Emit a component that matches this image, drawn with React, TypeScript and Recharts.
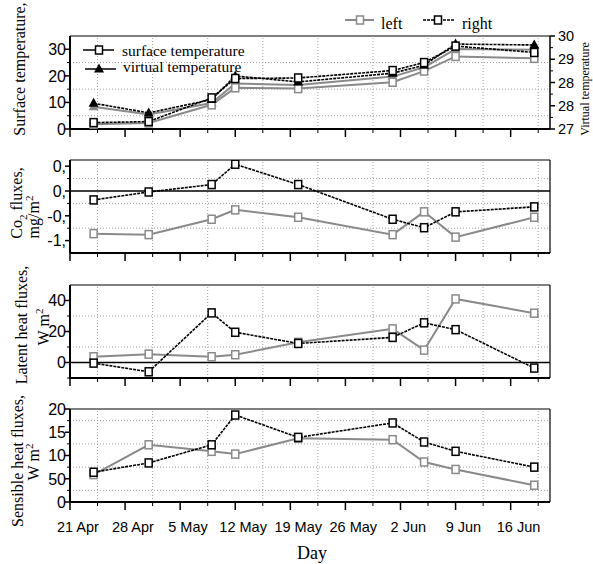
import React from 'react';
import { LineChart, Line, XAxis, YAxis, ReferenceLine } from 'recharts';

// sampling days, counted from 20 Apr (day 0)
const days = [3, 10, 18, 21, 29, 41, 45, 49, 59];

const weekTicks = [0, 7, 14, 21, 28, 35, 42, 49, 56];
const halfWeekTicks = [3.5, 10.5, 17.5, 24.5, 31.5, 38.5, 45.5, 52.5, 59.5];
const labelDays = [1, 8, 15, 22, 29, 36, 43, 50, 57];
const dayLabels = ['21 Apr', '28 Apr', '5 May', '12 May', '19 May', '26 May', '2 Jun', '9 Jun', '16 Jun'];

// surface temperature (left axis)
const surfLeft = [1.8, 2.3, 9.1, 15.5, 15.2, 17.6, 21.8, 27.3, 26.6];
const surfRight = [2.4, 2.8, 11.7, 19.0, 19.2, 22.0, 25.0, 31.2, 28.8];
// virtual temperature (right axis)
const virtLeft = [27.72, 27.47, 27.84, 28.47, 28.42, 28.69, 28.99, 29.58, 29.56];
const virtRight = [27.83, 27.52, 27.95, 28.71, 28.52, 28.8, 29.06, 29.74, 29.71];

const co2Left = [-0.86, -0.88, -0.57, -0.38, -0.53, -0.88, -0.42, -0.93, -0.53];
const co2Right = [-0.18, -0.02, 0.13, 0.54, 0.13, -0.57, -0.74, -0.42, -0.32];

const latentLeft = [3.7, 5.4, 3.7, 5.0, 13, 21.7, 8, 41, 31.8];
const latentRight = [-0.4, -6, 32, 19.5, 12.3, 16.2, 25.6, 21.2, -3.6];

const sensibleLeft = [5.9, 12.3, 10.9, 10.3, 13.7, 13.4, 8.6, 7.0, 3.6];
const sensibleRight = [6.4, 8.4, 12.3, 18.7, 13.9, 17.0, 12.9, 10.9, 7.5];

// y ticks
const tempTicks = [0, 10, 20, 30];
const tempLabels = ['0', '10', '20', '30'];
const tempMinor = [5, 15, 25];
const virtTicks = [27, 27.75, 28.5, 29.25, 30];
const virtLabels = ['27', '28', '28', '29', '30'];
const virtMinor = [27.375, 28.125, 28.875, 29.625];
const co2Ticks = [-1, -0.5, 0, 0.5];
const co2Labels = ['-1,', '-0,', '0,', '0,'];
const co2Minor = [-0.75, -0.25, 0.25];
const latentTicks = [0, 20, 40];
const latentLabels = ['0', '20', '40'];
const latentMinor = [-10, 10, 30];
const sensibleTicks = [0, 5, 10, 15, 20];
const sensibleLabels = ['0', '50', '10', '15', '20'];
const sensibleMinor = [2.5, 7.5, 12.5, 17.5];

const SANS = 'Liberation Sans, Arial, sans-serif';
const SERIF = 'Liberation Serif, Times New Roman, serif';
const GREY = '#8a8a8a';
const GRID = '#a0a0a0';
const DASH = '3 1';

const build = (l: number[], r: number[], l2?: number[], r2?: number[]) =>
  days.map((d, i) => ({ day: d, l: l[i], r: r[i], l2: l2 ? l2[i] : null, r2: r2 ? r2[i] : null }));

const square = (color: string) => (p: any) => (
  <rect key={'s' + p.index} x={p.cx - 3.5} y={p.cy - 4} width={7} height={8} fill="#fff" stroke={color} strokeWidth={1.5} />
);
const triangle = (color: string) => (p: any) => (
  <path key={'t' + p.index} d={`M${p.cx},${p.cy - 5.5}L${p.cx + 5},${p.cy + 3.5}L${p.cx - 5},${p.cy + 3.5}Z`} fill={color} />
);

const XTick = ({ x, y, payload, showLabels }: any) => {
  const v = payload.value;
  if (weekTicks.includes(v)) return <line x1={x} x2={x} y1={y} y2={y + 8} stroke="#000" strokeWidth={1.5} />;
  const i = labelDays.indexOf(v);
  if (i >= 0) {
    if (!showLabels) return <g />;
    return (
      <text x={x} y={y + 30} textAnchor="middle" fontSize={14.5} fontFamily={SANS} fill="#000">
        {dayLabels[i]}
      </text>
    );
  }
  return <line x1={x} x2={x} y1={y} y2={y + 4} stroke="#000" strokeWidth={1} />;
};

const YTick = ({ x, y, payload, major, labels, right }: any) => {
  const i = major.indexOf(payload.value);
  const s = right ? 1 : -1;
  if (i < 0) return <line x1={x} x2={x + s * 3} y1={y} y2={y} stroke="#000" strokeWidth={1} />;
  return (
    <g>
      <line x1={x} x2={x + s * 5} y1={y} y2={y} stroke="#000" strokeWidth={1.5} />
      <text
        x={x + s * (right ? 8 : 4)}
        y={y}
        dy="0.36em"
        textAnchor={right ? 'start' : 'end'}
        fontSize={right ? 14.5 : 16}
        fontFamily={SANS}
        fill="#000"
      >
        {labels[i]}
      </text>
    </g>
  );
};

const gridLines = (yVals: number[], yAxisId?: string) => [
  ...halfWeekTicks.map((v) => (
    <ReferenceLine key={'gx' + v} x={v} yAxisId={yAxisId} stroke={GRID} strokeDasharray="1 2" />
  )),
  ...yVals.map((v) => (
    <ReferenceLine key={'gy' + v} y={v} yAxisId={yAxisId} stroke={GRID} strokeDasharray="1 2" />
  )),
];

const xAxis = (bottom: boolean) => (
  <XAxis
    dataKey="day"
    type="number"
    domain={[0, 61]}
    ticks={[...weekTicks, ...halfWeekTicks, ...labelDays].sort((a, b) => a - b)}
    interval={0}
    tickSize={0}
    tickMargin={0}
    tickLine={false}
    height={bottom ? 45 : 22}
    axisLine={{ stroke: '#000', strokeWidth: 2 }}
    tick={(p: any) => <XTick {...p} showLabels={bottom} />}
  />
);

type PanelProps = {
  top: number;
  data: any[];
  domain: [number, number];
  major: number[];
  labels: string[];
  minor: number[];
  zero?: boolean;
  bottom?: boolean;
};

const Panel = ({ top, data, domain, major, labels, minor, zero, bottom }: PanelProps) => (
  <div style={{ position: 'absolute', left: 0, top: top - 10 }}>
    <LineChart width={593} height={10 + 93 + (bottom ? 45 : 22)} data={data} margin={{ top: 10, right: 43, bottom: 0, left: 0 }}>
      {xAxis(!!bottom)}
      <YAxis
        type="number"
        domain={domain}
        ticks={[...major, ...minor]}
        interval={0}
        width={70}
        tickSize={0}
        tickMargin={0}
        tickLine={false}
        allowDataOverflow
        axisLine={{ stroke: '#000', strokeWidth: 2 }}
        tick={(p: any) => <YTick {...p} major={major} labels={labels} />}
      />
      {gridLines(minor)}
      <ReferenceLine y={domain[1]} stroke="#000" strokeWidth={1.2} />
      <ReferenceLine x={61} stroke="#000" strokeWidth={1.2} />
      {zero && <ReferenceLine y={0} stroke="#000" strokeWidth={1.5} />}
      <Line dataKey="l" type="linear" stroke={GREY} strokeWidth={2} dot={square(GREY)} activeDot={false} isAnimationActive={false} />
      <Line dataKey="r" type="linear" stroke="#000" strokeWidth={1.6} strokeDasharray={DASH} dot={square('#000')} activeDot={false} isAnimationActive={false} />
    </LineChart>
  </div>
);

const TempPanel = () => (
  <div style={{ position: 'absolute', left: 0, top: 26 }}>
    <LineChart width={593} height={125} data={build(surfLeft, surfRight, virtLeft, virtRight)} margin={{ top: 10, right: 0, bottom: 0, left: 0 }}>
      {xAxis(false)}
      <YAxis
        yAxisId="l"
        type="number"
        domain={[0, 35]}
        ticks={[...tempTicks, ...tempMinor]}
        interval={0}
        width={70}
        tickSize={0}
        tickMargin={0}
        tickLine={false}
        axisLine={{ stroke: '#000', strokeWidth: 2 }}
        tick={(p: any) => <YTick {...p} major={tempTicks} labels={tempLabels} />}
      />
      <YAxis
        yAxisId="r"
        orientation="right"
        type="number"
        domain={[27, 30]}
        ticks={[...virtTicks, ...virtMinor]}
        interval={0}
        width={43}
        tickSize={0}
        tickMargin={0}
        tickLine={false}
        axisLine={{ stroke: '#000', strokeWidth: 1.5 }}
        tick={(p: any) => <YTick {...p} major={virtTicks} labels={virtLabels} right />}
      />
      {gridLines(tempMinor, 'l')}
      <ReferenceLine yAxisId="l" y={35} stroke="#000" strokeWidth={1.2} />
      <Line yAxisId="r" dataKey="l2" type="linear" stroke={GREY} strokeWidth={2} dot={triangle(GREY)} activeDot={false} isAnimationActive={false} />
      <Line yAxisId="l" dataKey="l" type="linear" stroke={GREY} strokeWidth={2} dot={square(GREY)} activeDot={false} isAnimationActive={false} />
      <Line yAxisId="r" dataKey="r2" type="linear" stroke="#000" strokeWidth={1.6} strokeDasharray={DASH} dot={triangle('#000')} activeDot={false} isAnimationActive={false} />
      <Line yAxisId="l" dataKey="r" type="linear" stroke="#000" strokeWidth={1.6} strokeDasharray={DASH} dot={square('#000')} activeDot={false} isAnimationActive={false} />
    </LineChart>
  </div>
);

const Title = ({ cx, cy, size = 16, children }: any) => (
  <div
    style={{
      position: 'absolute',
      left: cx,
      top: cy,
      transform: 'translate(-50%, -50%) rotate(-90deg)',
      whiteSpace: 'nowrap',
      fontFamily: SERIF,
      fontSize: size,
      lineHeight: 1,
    }}
  >
    {children}
  </div>
);

const Legends = () => (
  <svg width={593} height={80} style={{ position: 'absolute', left: 0, top: 0 }}>
    <line x1={345} x2={374} y1={20} y2={20} stroke={GREY} strokeWidth={2} />
    <rect x={356.5} y={16} width={7} height={8} fill="#fff" stroke={GREY} strokeWidth={1.5} />
    <text x={381} y={29} fontFamily={SERIF} fontSize={16}>left</text>
    <line x1={423} x2={454} y1={20} y2={20} stroke="#000" strokeWidth={1.6} strokeDasharray={DASH} />
    <rect x={434.5} y={16} width={7} height={8} fill="#fff" stroke="#000" strokeWidth={1.5} />
    <text x={462} y={29} fontFamily={SERIF} fontSize={16}>right</text>

    <line x1={83} x2={114} y1={50} y2={50} stroke="#000" strokeWidth={1.5} />
    <rect x={95.5} y={46} width={7} height={8} fill="#fff" stroke="#000" strokeWidth={1.5} />
    <text x={122} y={56} fontFamily={SERIF} fontSize={15.5}>surface temperature</text>
    <line x1={85} x2={116} y1={69} y2={69} stroke="#000" strokeWidth={1.5} />
    <path d="M99,63.5L104,72.5L94,72.5Z" fill="#000" />
    <text x={123} y={72} fontFamily={SERIF} fontSize={15.5}>virtual temperature</text>
  </svg>
);

export default function App() {
  return (
    <div style={{ position: 'absolute', left: 0, top: 0, width: 593, height: 564, background: '#fff', overflow: 'hidden' }}>
      <TempPanel />
      <Panel top={160} data={build(co2Left, co2Right)} domain={[-1.25, 0.625]} major={co2Ticks} labels={co2Labels} minor={co2Minor} zero />
      <Panel top={285} data={build(latentLeft, latentRight)} domain={[-10, 50]} major={latentTicks} labels={latentLabels} minor={latentMinor} zero />
      <Panel top={408.5} data={build(sensibleLeft, sensibleRight)} domain={[0, 20]} major={sensibleTicks} labels={sensibleLabels} minor={sensibleMinor} bottom />
      <Legends />

      <Title cx={20} cy={69}>Surface temperature,</Title>
      <Title cx={19} cy={203}>Co<sub style={{ fontSize: 11 }}>2</sub> fluxes,</Title>
      <Title cx={33} cy={217}>mg/m<sup style={{ fontSize: 11 }}>2</sup></Title>
      <Title cx={22} cy={325}>Latent heat fluxes,</Title>
      <Title cx={43} cy={327}>W m<sup style={{ fontSize: 11 }}>2</sup></Title>
      <Title cx={18} cy={461}>Sensible heat fluxes,</Title>
      <Title cx={33} cy={462}>W m<sup style={{ fontSize: 11 }}>2</sup></Title>
      <Title cx={585} cy={89} size={12}>Virtual temperature</Title>

      <div style={{ position: 'absolute', left: 312, top: 553, transform: 'translate(-50%, -50%)', fontFamily: SERIF, fontSize: 18 }}>
        Day
      </div>
    </div>
  );
}
